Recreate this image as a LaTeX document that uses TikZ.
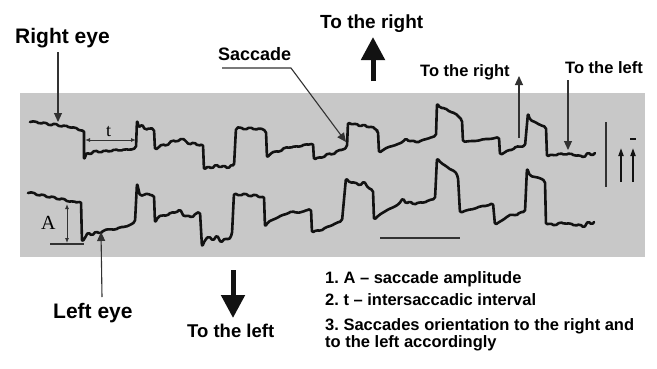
\documentclass[tikz,border=0pt]{standalone}
\usepackage{fontspec}
\setmainfont{Liberation Sans}
\newfontfamily\serifA{Liberation Serif}
\usetikzlibrary{arrows.meta}
\definecolor{bggray}{RGB}{200,200,200}
\definecolor{ink}{RGB}{18,18,18}
\definecolor{thinc}{RGB}{50,50,50}
\frenchspacing
\begin{document}
\begin{tikzpicture}[x=1pt,y=-1pt,
  lbl/.style={inner sep=0pt, anchor=base west, font=\bfseries\fontsize{#1}{#1}\selectfont},
  seriflbl/.style={inner sep=0pt, anchor=base west, font=\serifA\fontsize{#1}{#1}\selectfont},
  trace/.style={line width=2.6pt, draw=ink, line join=round, line cap=round, rounded corners=1.8pt},
  thinarrow/.style={draw=thinc, line width=1.1pt, -{Triangle[width=8pt,length=9pt]}},
  bigarrow/.style={draw=ink, line width=5pt, -{Triangle[width=23pt,length=23pt]}},
  tinyarrow/.style={draw=ink, line width=1.8pt, -{Triangle[width=5pt,length=8pt]}},
  dimarrow/.style={draw=thinc, line width=0.9pt, {Latex[length=5pt,width=4pt]}-{Latex[length=5pt,width=4pt]}},
  guide/.style={draw=thinc, line width=1.1pt}]
\fill[white] (0,0) rectangle (657,368);
\useasboundingbox (0,0) rectangle (657,368);
% gray panel
\fill[bggray] (20,93) rectangle (645,257);

% right eye trace
\draw[trace] (30,122) -- (35,121) -- (40,124) -- (45,122) -- (50,126) -- (55,123) -- (60,127) -- (65,125) -- (70,128) -- (75,127) -- (80,131) -- (84,130)
 -- (84,160) -- (87,152) -- (90,155) -- (95,150) -- (100,153) -- (105,150) -- (110,152) -- (115,149) -- (120,151) -- (125,149) -- (130,150) -- (136,148)
 -- (137,120) -- (139,128) -- (142,124) -- (145,130) -- (150,128) -- (154,129)
 -- (155,150) -- (158,148) -- (162,144) -- (167,146) -- (172,140) -- (177,142) -- (182,138) -- (186,141) -- (189,145) -- (194,142) -- (198,146) -- (203,144)
 -- (204,170) -- (208,166) -- (212,169) -- (216,164) -- (220,168) -- (224,165) -- (228,169) -- (232,164) -- (234,166)
 -- (236,128) -- (240,127) -- (245,130) -- (250,127) -- (255,130) -- (260,128) -- (266,131)
 -- (267,158) -- (270,154) -- (275,151) -- (280,152) -- (285,147) -- (290,148) -- (295,146) -- (300,147) -- (305,144) -- (310,145) -- (313,143)
 -- (314,160) -- (318,157) -- (323,158) -- (328,153) -- (333,155) -- (338,150) -- (343,150) -- (347,147)
 -- (348,122) -- (352,125) -- (356,123) -- (360,127) -- (364,124) -- (368,128) -- (372,126) -- (376,130) -- (378,131)
 -- (379,153) -- (383,150) -- (388,147) -- (393,146) -- (398,144) -- (403,142) -- (406,138) -- (409,142) -- (413,140) -- (417,143) -- (422,140) -- (427,139) -- (432,137) -- (436,136)
 -- (437,103) -- (440,108) -- (445,108) -- (450,112) -- (455,113) -- (460,118) -- (462,120)
 -- (463,142) -- (470,141) -- (477,141) -- (484,139) -- (491,139) -- (499,137)
 -- (500,155) -- (504,153) -- (508,150) -- (513,150) -- (516,146) -- (520,147) -- (525,146)
 -- (528,113) -- (530,120) -- (535,122) -- (540,125) -- (546,127)
 -- (547,157) -- (551,154) -- (555,156) -- (560,153) -- (565,155) -- (570,153) -- (575,156) -- (580,155) -- (584,158) -- (588,152) -- (592,156) -- (595,153);

% left eye trace
\draw[trace] (28,193) -- (33,192) -- (38,196) -- (43,194) -- (48,198) -- (53,196) -- (58,200) -- (63,198) -- (68,202) -- (73,201) -- (78,203) -- (81,201)
 -- (82,242) -- (85,238) -- (88,232) -- (92,236) -- (96,231) -- (100,234) -- (104,230) -- (110,229) -- (115,230) -- (120,227) -- (125,227) -- (130,225) -- (135,222)
 -- (137,183) -- (140,196) -- (144,195) -- (148,193) -- (151,196) -- (154,195)
 -- (155,223) -- (158,217) -- (162,215) -- (167,216) -- (171,212) -- (176,213) -- (180,209) -- (184,217) -- (188,215) -- (192,218) -- (196,213) -- (200,212)
 -- (202,247) -- (205,240) -- (209,236) -- (213,241) -- (217,235) -- (221,243) -- (225,238) -- (229,240) -- (232,234)
 -- (234,193) -- (240,196) -- (245,193) -- (250,197) -- (255,194) -- (260,198) -- (264,196)
 -- (265,227) -- (268,222) -- (272,220) -- (277,218) -- (282,215) -- (287,214) -- (292,211) -- (297,213) -- (302,212) -- (307,210) -- (311,209)
 -- (312,233) -- (316,230) -- (321,231) -- (326,227) -- (331,226) -- (336,223) -- (342,221)
 -- (346,178) -- (350,183) -- (355,182) -- (360,186) -- (364,181) -- (368,188) -- (373,190)
 -- (374,220) -- (379,215) -- (384,212) -- (389,209) -- (394,207) -- (399,204) -- (403,198) -- (406,204) -- (410,201) -- (414,205) -- (419,202) -- (424,203) -- (429,200) -- (435,199)
 -- (437,158) -- (441,163) -- (446,166) -- (451,170) -- (455,171) -- (458,177)
 -- (460,213) -- (467,210) -- (474,209) -- (481,206) -- (487,206) -- (493,203)
 -- (495,225) -- (499,222) -- (503,220) -- (508,216) -- (512,214) -- (516,216) -- (520,212) -- (525,212)
 -- (527,168) -- (530,176) -- (535,177) -- (540,178) -- (545,181)
 -- (546,225) -- (550,223) -- (555,226) -- (560,222) -- (565,224) -- (570,223) -- (575,226) -- (580,224) -- (584,228) -- (588,221) -- (592,225) -- (594,222);

% t interval
\coordinate (t1) at (85,140);
\coordinate (t2) at (136,140);
\draw[dimarrow] (t1) -- (t2);
\node[seriflbl=18] (tlab) at (106,136) {t};

% A amplitude
\coordinate (A1) at (67,204);
\coordinate (A2) at (67,243);
\coordinate (Ab1) at (50,244);
\coordinate (Ab2) at (84,244);
\draw[dimarrow] (A2) -- (A1);
\draw[guide] (Ab1) -- (Ab2);
\node[seriflbl=20] (Alab) at (41,229) {A};

% scale bars and polarity arrows
\coordinate (sb1) at (380,238);
\coordinate (sb2) at (460,238);
\draw[draw=thinc, line width=1.6pt] (sb1) -- (sb2);
\coordinate (vb1) at (606,122);
\coordinate (vb2) at (606,187);
\draw[draw=thinc, line width=2.4pt] (vb1) -- (vb2);
\coordinate (p1a) at (621,182);
\coordinate (p1b) at (621,148);
\coordinate (p2a) at (633,182);
\coordinate (p2b) at (633,148);
\draw[tinyarrow] (p1a) -- (p1b);
\draw[tinyarrow] (p2a) -- (p2b);
\coordinate (ob1) at (630,139);
\coordinate (ob2) at (636,139);
\draw[draw=ink, line width=1.2pt] (ob1) -- (ob2);

% labels
\node[lbl=21] (re) at (15,43) {Right eye};
\node[lbl=21] (le) at (53,318) {Left eye};
\node[lbl=18] (sac) at (218,60) {Saccade};
\node[lbl=19] (rtop) at (320,28) {To the right};
\node[lbl=18.5] (lbot) at (187,337) {To the left};
\node[lbl=16.5] (rsm) at (420,76) {To the right};
\node[lbl=16.5] (lsm) at (565,73) {To the left};
\node[lbl=16.5] (l1) at (325,283) {1. A – saccade amplitude};
\node[lbl=16.5] (l2) at (325,305) {2. t – intersaccadic interval};
\node[lbl=16.5] (l3) at (325,330) {3. Saccades orientation to the right and};
\node[lbl=16.5] (l4) at (325,347) {to the left accordingly};

% label arrows
\coordinate (reA) at (58,52);
\coordinate (reB) at (58,122);
\draw[thinarrow] (reA) -- (reB);
\coordinate (leA) at (102,297);
\coordinate (leB) at (101,232);
\draw[thinarrow] (leA) -- (leB);
\coordinate (sacA) at (222,68);
\coordinate (sacB) at (291,68);
\coordinate (sacC) at (346,142);
\draw[thinarrow] (sacA) -- (sacB) -- (sacC);
\coordinate (rsA) at (519,138);
\coordinate (rsB) at (519,76);
\draw[thinarrow] (rsA) -- (rsB);
\coordinate (lsA) at (568,80);
\coordinate (lsB) at (568,150);
\draw[thinarrow] (lsA) -- (lsB);

% big direction arrows
\coordinate (buA) at (373,81);
\coordinate (buB) at (373,37);
\draw[bigarrow] (buA) -- (buB);
\coordinate (bdA) at (233,270);
\coordinate (bdB) at (233,318);
\draw[bigarrow] (bdA) -- (bdB);
\end{tikzpicture}
\end{document}
